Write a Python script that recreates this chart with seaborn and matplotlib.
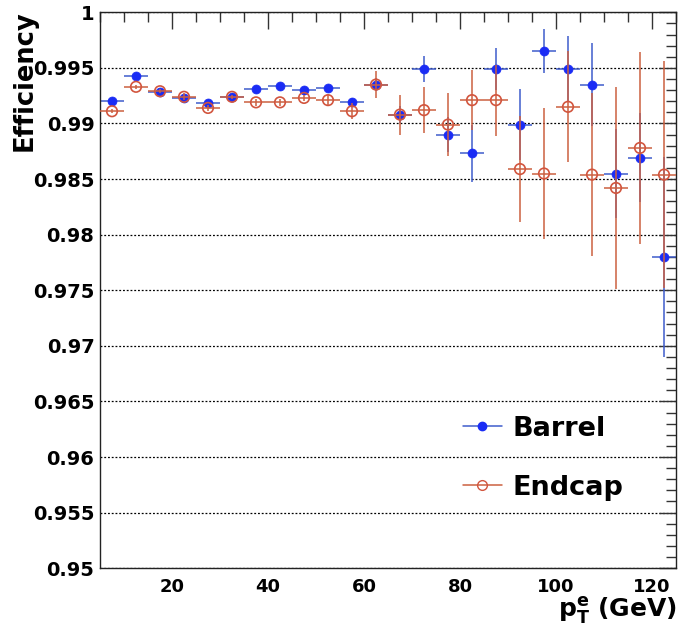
import numpy as np
import pandas as pd
import matplotlib
matplotlib.use("Agg")
import matplotlib.pyplot as plt
from matplotlib.lines import Line2D
from matplotlib.ticker import MultipleLocator
import seaborn as sns

# ---- data ----
pt_centers = [7.5, 12.5, 17.5, 22.5, 27.5, 32.5, 37.5, 42.5, 47.5, 52.5, 57.5, 62.5,
              67.5, 72.5, 77.5, 82.5, 87.5, 92.5, 97.5, 102.5, 107.5, 112.5, 117.5, 122.5]
bin_half_width = 2.5

barrel_eff = [0.9920, 0.9943, 0.9928, 0.9923, 0.9918, 0.9924, 0.9931, 0.9934, 0.9930, 0.9932,
              0.9919, 0.9935, 0.9908, 0.9949, 0.9890, 0.9873, 0.9949, 0.9899, 0.9965, 0.9949,
              0.9935, 0.9855, 0.9869, 0.9780]
barrel_err = [0.0001, 0.0001, 0.0001, 0.0002, 0.0002, 0.0002, 0.0002, 0.0002, 0.0002, 0.0003,
              0.0004, 0.0006, 0.0008, 0.0012, 0.0016, 0.0026, 0.0019, 0.0032, 0.0020, 0.0030,
              0.0037, 0.0040, 0.0040, 0.0090]

endcap_eff = [0.9911, 0.9933, 0.9929, 0.9924, 0.9914, 0.9924, 0.9919, 0.9919, 0.9923, 0.9921,
              0.9911, 0.9935, 0.9908, 0.9912, 0.9899, 0.9921, 0.9921, 0.9859, 0.9855, 0.9915,
              0.9854, 0.9842, 0.9878, 0.9854]
endcap_err = [0.0002, 0.0002, 0.0002, 0.0003, 0.0003, 0.0002, 0.0003, 0.0003, 0.0003, 0.0005,
              0.0007, 0.0012, 0.0018, 0.0021, 0.0028, 0.0027, 0.0032, 0.0048, 0.0059, 0.0050,
              0.0073, 0.0091, 0.0086, 0.0102]

series_labels = ["Barrel", "Endcap"]
y_ticks = [0.95, 0.955, 0.96, 0.965, 0.97, 0.975, 0.98, 0.985, 0.99, 0.995, 1.0]
y_ticklabels = ["0.95", "0.955", "0.96", "0.965", "0.97", "0.975", "0.98", "0.985", "0.99", "0.995", "1"]
x_ticks = [20, 40, 60, 80, 100, 120]

df = pd.DataFrame({
    "pt": pt_centers * 2,
    "eff": barrel_eff + endcap_eff,
    "err": barrel_err + endcap_err,
    "region": [series_labels[0]] * len(pt_centers) + [series_labels[1]] * len(pt_centers),
})

# ---- style ----
sns.set_theme(style="white")
plt.rcParams["font.family"] = ["DejaVu Sans"]
plt.rcParams["font.weight"] = "bold"
plt.rcParams["mathtext.fontset"] = "dejavusans"
plt.rcParams["mathtext.default"] = "bf"
plt.rcParams["text.color"] = "black"
plt.rcParams["xtick.labelcolor"] = "black"
plt.rcParams["ytick.labelcolor"] = "black"

blue_mk = "#1a2cf5"
blue_ln = "#3f5ccc"
red_mk = "#d2553e"
red_ln = "#cc6040"

fig = plt.figure(figsize=(6.78, 6.32), dpi=100)
ax = fig.add_axes([100 / 678, 1 - 568.2 / 632, 576 / 678, 555.9 / 632])

b = df[df.region == "Barrel"]
e = df[df.region == "Endcap"]

ax.errorbar(b.pt, b.eff, xerr=bin_half_width, yerr=b.err, fmt="none",
            ecolor=blue_ln, elinewidth=1.1, capsize=0, zorder=2)
sns.scatterplot(x=b.pt.values, y=b.eff.values, ax=ax, color=blue_mk, s=42,
                marker="o", edgecolor=blue_mk, linewidth=0.5, zorder=3, legend=False)

ax.errorbar(e.pt, e.eff, xerr=bin_half_width, yerr=e.err, fmt="none",
            ecolor=red_ln, elinewidth=1.1, capsize=0, zorder=4)
ax.scatter(e.pt.values, e.eff.values, s=58, marker="o", facecolors="none",
           edgecolors=red_mk, linewidths=1.2, zorder=5)

ax.set_xlim(5, 125)
ax.set_ylim(0.95, 1.0)
ax.set_yticks(y_ticks)
ax.set_yticklabels(y_ticklabels)
ax.set_xticks(x_ticks)
ax.xaxis.set_minor_locator(MultipleLocator(5))
ax.yaxis.set_minor_locator(MultipleLocator(0.001))
ax.tick_params(which="both", direction="in", top=True, right=True,
               color="#333333", width=1.0)
ax.tick_params(which="major", length=12)
ax.tick_params(which="minor", length=7)
ax.tick_params(axis="y", which="major", pad=4, labelsize=14, labelcolor="black")
ax.tick_params(axis="x", which="major", pad=7, labelsize=13, labelcolor="black")
for lab in ax.get_xticklabels() + ax.get_yticklabels():
    lab.set_fontweight("bold")

ax.grid(axis="y", which="major", linestyle=(0, (1.5, 1.5)), color="black", linewidth=0.9)
ax.grid(axis="x", visible=False)
for s in ax.spines.values():
    s.set_color("#222222")
    s.set_linewidth(1.0)

fig.text(25 / 678, 1 - 10 / 632, "Efficiency", rotation=90, ha="center", va="top",
         fontsize=18.5, fontweight="bold", color="black")
fig.text(677 / 678, 1 - 610 / 632, r"$p_{T}^{e}$ (GeV)", ha="right", va="center",
         fontsize=18, fontweight="bold", color="black")

handles = [
    Line2D([], [], color=blue_ln, marker="o", markerfacecolor=blue_mk,
           markeredgecolor=blue_mk, markersize=6, linewidth=1.1),
    Line2D([], [], color=red_ln, marker="o", markerfacecolor="none",
           markeredgecolor=red_mk, markersize=7, linewidth=1.1),
]
leg = ax.legend(handles, series_labels, loc="upper left",
                bbox_to_anchor=((449 - 100) / 576, (568 - 402) / 556),
                frameon=False, borderpad=0, handlelength=1.45, handletextpad=0.38,
                labelspacing=1.22, prop={"size": 19.5, "weight": "bold"})
for t in leg.get_texts():
    t.set_color("black")

fig.savefig("out.png", dpi=100)
